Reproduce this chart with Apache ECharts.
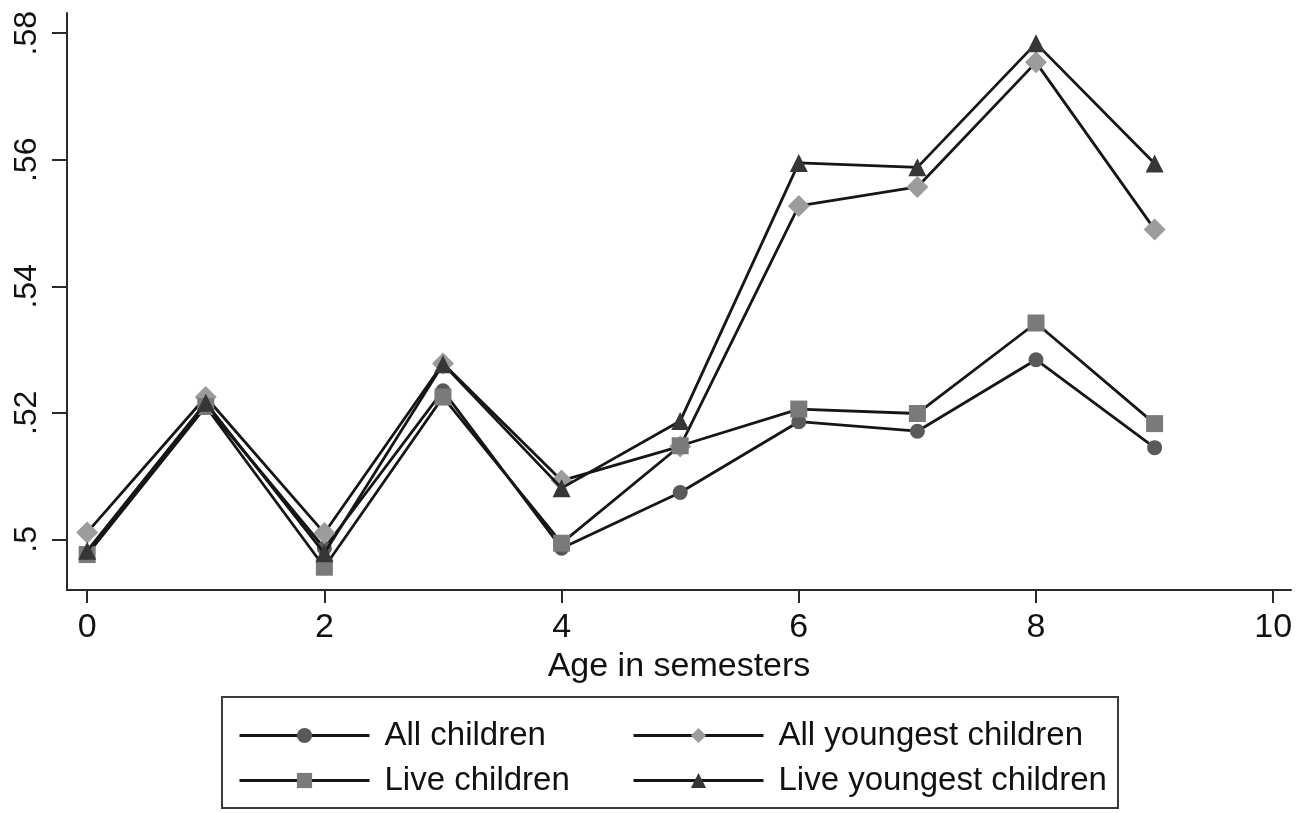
<!DOCTYPE html>
<html>
<head>
<meta charset="utf-8">
<script src="https://cdn.jsdelivr.net/npm/echarts@6/dist/echarts.min.js"></script>
<style>
  html, body { margin: 0; padding: 0; background: #fff; }
  #chart { width: 1311px; height: 813px; }
</style>
</head>
<body>
<div id="chart"></div>
<script>
// Age in semesters (x values)
const ages = [0, 1, 2, 3, 4, 5, 6, 7, 8, 9];

// Share by age, one array per group
const allChildren      = [0.4978, 0.5212, 0.4986, 0.5235, 0.4986, 0.5074, 0.5186, 0.5171, 0.5284, 0.5145];
const allYoungest      = [0.5011, 0.5225, 0.5010, 0.5278, 0.5093, 0.5147, 0.5527, 0.5557, 0.5754, 0.5490];
const liveChildren     = [0.4976, 0.5210, 0.4956, 0.5225, 0.4994, 0.5148, 0.5206, 0.5199, 0.5342, 0.5183];
const liveYoungest     = [0.4982, 0.5216, 0.4978, 0.5277, 0.5081, 0.5187, 0.5595, 0.5588, 0.5784, 0.5594];

// Tick labels
const xTicks = [0, 2, 4, 6, 8, 10];
const yTicks = [0.5, 0.52, 0.54, 0.56, 0.58];

const names = ['All children', 'All youngest children', 'Live children', 'Live youngest children'];

const FONT = 'Liberation Sans';

function pairs(vals) {
  return ages.map((a, i) => [a, vals[i]]);
}

function makeSeries(name, vals, symbol, size, fill, z) {
  return {
    name: name,
    type: 'line',
    data: pairs(vals),
    symbol: symbol,
    symbolSize: size,
    showAllSymbol: true,
    z: z,
    lineStyle: { color: '#161616', width: 2.8 },
    itemStyle: { color: fill, borderWidth: 0 },
    emphasis: { disabled: true },
    animation: false
  };
}

const chart = echarts.init(document.getElementById('chart'), null, { renderer: 'canvas' });

const legendText = { fontFamily: FONT, fontSize: 33, color: '#111', padding: [0, 0, 0, 10] };

function legendColumn(items, left) {
  return {
    data: items,
    orient: 'vertical',
    left: left,
    top: 714,
    itemWidth: 130,
    itemHeight: 19,
    itemGap: 12,
    textStyle: legendText,
    lineStyle: { width: 3, color: '#161616' },
    selectedMode: false
  };
}

chart.setOption({
  backgroundColor: '#ffffff',
  animation: false,
  grid: { left: 67, right: 20, top: 13, bottom: 223, containLabel: false },
  xAxis: {
    type: 'value',
    min: -0.17,
    max: 10.15,
    name: 'Age in semesters',
    nameLocation: 'middle',
    nameGap: 48,
    nameTextStyle: { fontFamily: FONT, fontSize: 34, color: '#111' },
    axisLine: { show: true, onZero: false, lineStyle: { color: '#2a2a2a', width: 2 } },
    axisTick: { show: true, length: 13, customValues: xTicks, lineStyle: { color: '#2a2a2a', width: 2 } },
    axisLabel: { customValues: xTicks, margin: 21, fontFamily: FONT, fontSize: 34, color: '#111' },
    splitLine: { show: false }
  },
  yAxis: {
    type: 'value',
    min: 0.492,
    max: 0.5832,
    axisLine: { show: true, onZero: false, lineStyle: { color: '#2a2a2a', width: 2 } },
    axisTick: { show: true, length: 15, customValues: yTicks, lineStyle: { color: '#2a2a2a', width: 2 } },
    axisLabel: {
      customValues: yTicks,
      rotate: 90,
      margin: 24,
      fontFamily: FONT,
      fontSize: 32,
      color: '#111',
      formatter: v => String(+v.toFixed(2)).replace(/^0/, '')
    },
    splitLine: { show: false }
  },
  legend: [
    legendColumn([names[0], names[2]], 233),
    legendColumn([names[1], names[3]], 627)
  ],
  graphic: [
    {
      type: 'rect',
      shape: { x: 222, y: 697, width: 896, height: 111 },
      style: { fill: 'none', stroke: '#3a3a3a', lineWidth: 2 },
      silent: true
    }
  ],
  series: [
    makeSeries(names[0], allChildren, 'circle', 15, '#595959', 2),
    makeSeries(names[1], allYoungest, 'diamond', 22, '#9c9c9c', 3),
    makeSeries(names[2], liveChildren, 'rect', 17, '#7a7a7a', 4),
    makeSeries(names[3], liveYoungest, 'triangle', 18, '#363636', 5)
  ]
});
</script>
</body>
</html>
